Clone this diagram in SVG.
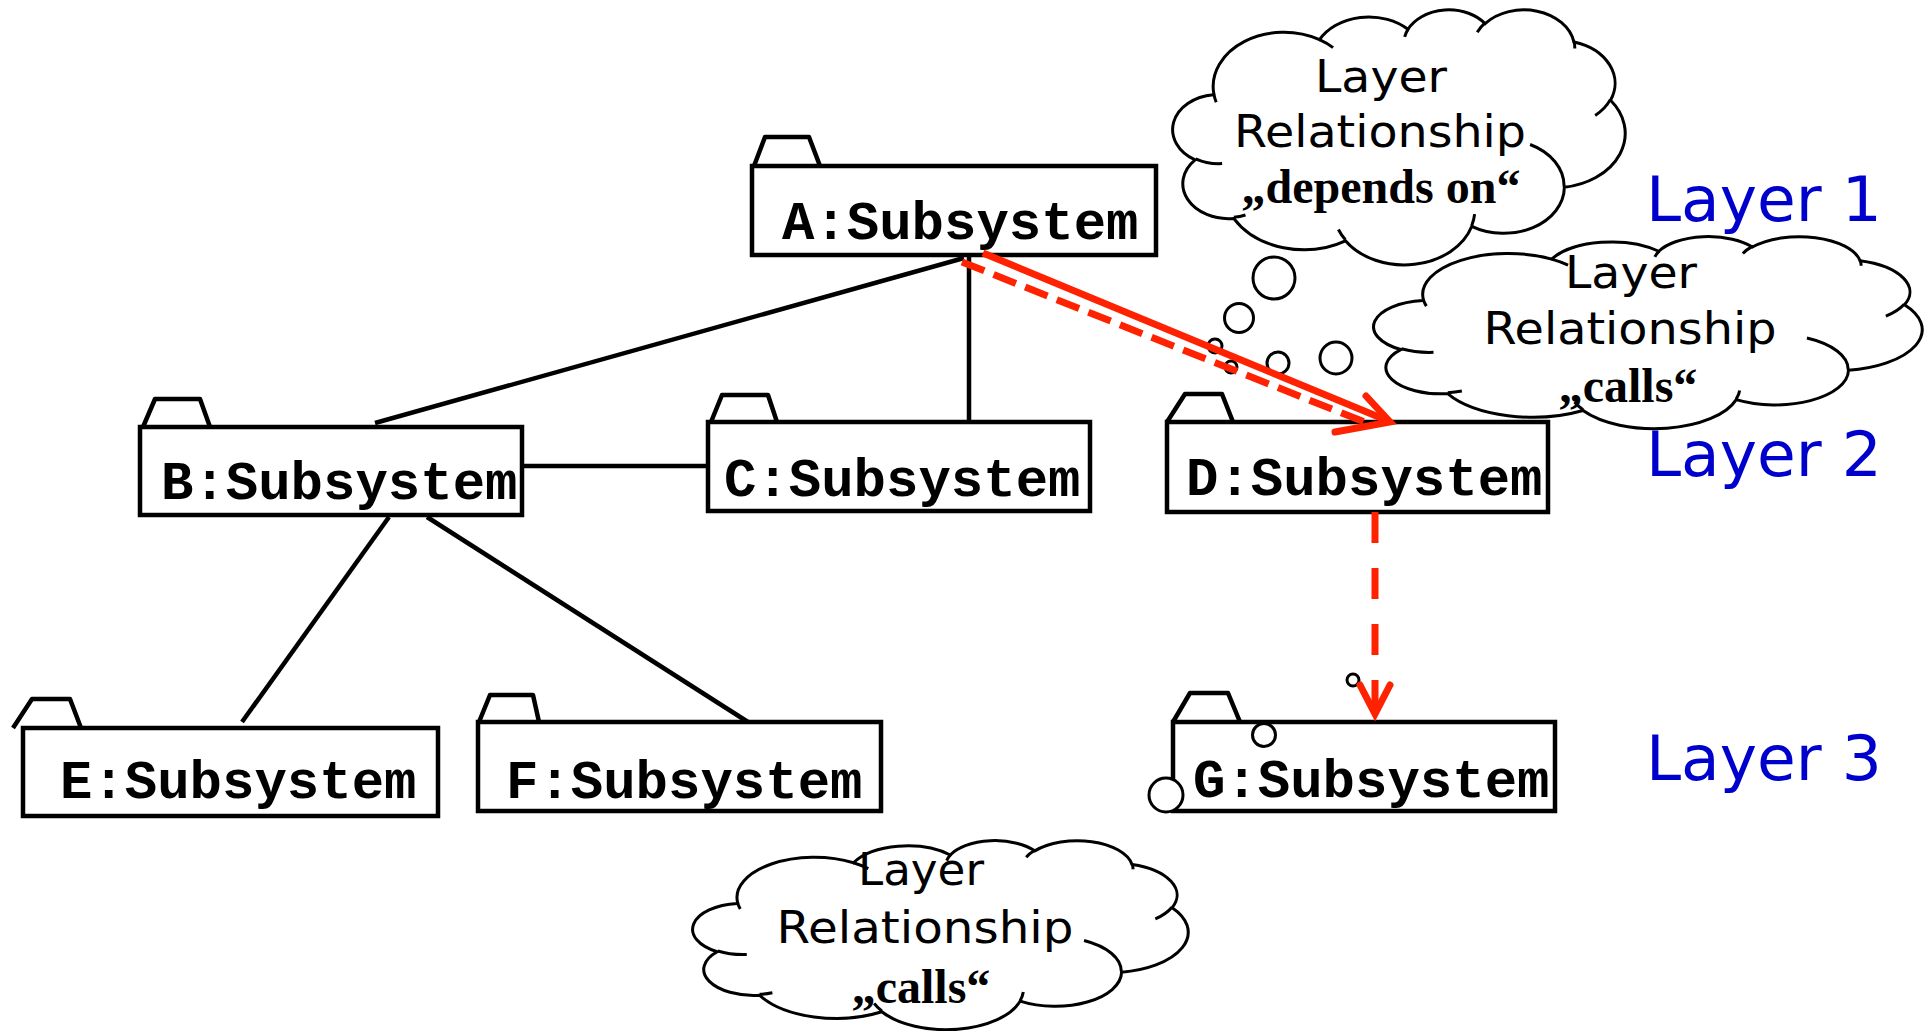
<svg xmlns="http://www.w3.org/2000/svg" width="1930" height="1031" viewBox="0 0 1930 1031">
<style>
.box{fill:#fff;stroke:#000;stroke-width:4.5}
.tab{fill:#fff;stroke:#000;stroke-width:4.5;stroke-linejoin:round}
.lbl{font-family:"Courier New","Nimbus Mono PS","FreeMono","Liberation Mono",monospace;font-weight:bold;font-size:54px;fill:#000}
.ln{stroke:#000;stroke-width:4.5;fill:none}
.red{stroke:#ff2200;fill:none}
.head{stroke:#ff2200;fill:none;stroke-width:7;stroke-linecap:round;stroke-linejoin:miter}
.cl{fill:#fff;stroke:#000;stroke-width:3}
.clin{fill:none;stroke:#000;stroke-width:3}
.ct{font-family:"DejaVu Sans",Verdana,sans-serif;font-size:44px;fill:#000;text-anchor:middle}
.cq{font-family:"Liberation Serif","Times New Roman",serif;font-weight:bold;font-size:48px;fill:#000;text-anchor:middle}
.layer{font-family:"DejaVu Sans",Verdana,sans-serif;font-size:63px;fill:#0000cc}
.bub{fill:#fff;stroke:#000;stroke-width:3}
</style>
<defs>
<g id="cloud">
<path class="cl" vector-effect="non-scaling-stroke" d="M39.00,143.70 A67.53,91.90 0 0 1 140.05,52.02 A53.33,72.67 0 0 1 224.55,34.32 A43.65,59.45 0 0 1 298.32,24.80 A48.57,65.95 0 0 1 383.17,55.76 A53.33,72.73 0 0 1 418.18,154.60 A67.75,92.20 0 0 1 374.04,302.03 A57.85,78.67 0 0 1 285.55,368.13 A67.52,92.15 0 0 1 164.80,392.65 A77.20,105.43 0 0 1 58.04,354.72 A43.60,59.18 0 0 1 21.13,255.50 A43.45,59.45 0 0 1 38.62,145.07 Z"/>
<path class="clin" vector-effect="non-scaling-stroke" d="M46.93,261.77 A43.45,59.45 0 0 1 21.61,253.80 M69.28,348.99 A43.60,59.18 0 0 1 58.19,352.81 M164.78,390.90 A67.52,92.15 0 0 1 158.10,373.49 M288.27,347.51 A67.52,92.15 0 0 1 285.60,366.60 M341.29,229.54 A57.85,78.67 0 0 1 373.80,300.90 M417.98,153.54 A53.33,72.73 0 0 1 403.50,180.30 M383.24,54.26 A48.57,65.95 0 0 1 384.01,66.90 M290.78,39.52 A48.57,65.95 0 0 1 298.20,23.38 M221.41,47.20 A43.65,59.45 0 0 1 225.01,33.31 M140.00,51.92 A67.53,91.90 0 0 1 152.99,65.39 M41.27,157.89 A67.53,91.90 0 0 1 39.00,143.71"/>
</g>
</defs>

<g id="cloud-depends">
<use href="#cloud" transform="translate(1173,9) scale(1.0463,0.5903)"/>
<text class="ct" x="1381" y="92" textLength="132" lengthAdjust="spacingAndGlyphs">Layer</text>
<text class="ct" x="1380" y="147" textLength="292" lengthAdjust="spacingAndGlyphs">Relationship</text>
<text class="cq" x="1381" y="203">„depends on“</text>
</g>

<g id="bubbles">
<circle class="bub" cx="1274" cy="278" r="21"/>
<circle class="bub" cx="1239" cy="318" r="14.5"/>
<circle class="bub" cx="1215" cy="346" r="7"/>
<circle class="bub" cx="1231" cy="367" r="6"/>
<circle class="bub" cx="1278" cy="363" r="11"/>
<circle class="bub" cx="1336" cy="358" r="16"/>
</g>

<g id="cloud-calls-top">
<use href="#cloud" transform="translate(1374,236) scale(1.2685,0.4444)"/>
<text class="ct" x="1631" y="288" textLength="132" lengthAdjust="spacingAndGlyphs">Layer</text>
<text class="ct" x="1630" y="344" textLength="293" lengthAdjust="spacingAndGlyphs">Relationship</text>
<text class="cq" x="1628" y="402">„calls“</text>
</g>

<g id="cloud-calls-bottom">
<use href="#cloud" transform="translate(693,840) scale(1.1458,0.4375)"/>
<text class="ct" x="921" y="885" textLength="126" lengthAdjust="spacingAndGlyphs">Layer</text>
<text class="ct" x="925" y="943" textLength="297" lengthAdjust="spacingAndGlyphs">Relationship</text>
<text class="cq" x="921" y="1003">„calls“</text>
</g>

<g id="layers">
<text class="layer" x="1646" y="221">Layer 1</text>
<text class="layer" x="1646" y="476">Layer 2</text>
<text class="layer" x="1646" y="780">Layer 3</text>
</g>

<g id="A">
<polyline class="tab" points="754,166 765,137 809,137 820,166"/>
<rect class="box" x="752" y="166" width="404" height="89"/>
<text class="lbl" x="782" y="239">A:Subsystem</text>
</g>
<g id="B">
<polyline class="tab" points="143,427 155,399 200,399 210,427"/>
<rect class="box" x="140" y="427" width="382" height="88"/>
<text class="lbl" x="161" y="499">B:Subsystem</text>
</g>
<g id="C">
<polyline class="tab" points="711,422 722,395 768,395 777,422"/>
<rect class="box" x="708" y="422" width="382" height="89"/>
<text class="lbl" x="724" y="496">C:Subsystem</text>
</g>
<g id="D">
<polyline class="tab" points="1167,422 1185,394 1222,394 1233,422"/>
<rect class="box" x="1167" y="422" width="381" height="90"/>
<text class="lbl" x="1186" y="495">D:Subsystem</text>
</g>
<g id="E">
<polyline class="tab" points="13,728 32,699 70,699 81,728"/>
<rect class="box" x="23" y="728" width="415" height="88"/>
<text class="lbl" x="60" y="798">E:Subsystem</text>
</g>
<g id="F">
<polyline class="tab" points="479,722 490,695 533,695 539,722"/>
<rect class="box" x="478" y="722" width="403" height="89"/>
<text class="lbl" x="506" y="798">F:Subsystem</text>
</g>
<g id="G">
<polyline class="tab" points="1173,722 1190,693 1228,693 1240,722"/>
<rect class="box" x="1173" y="722" width="382" height="89"/>
<text class="lbl" x="1193" y="797">G:Subsystem</text>
</g>

<g id="g-bubbles">
<circle class="bub" cx="1264" cy="735" r="11.5"/>
<circle class="bub" cx="1166" cy="795" r="17"/>
<circle class="bub" cx="1353" cy="680" r="6"/>
</g>

<g id="connectors">
<line class="ln" x1="964" y1="258" x2="375" y2="423"/>
<line class="ln" x1="969" y1="256" x2="969" y2="422"/>
<line class="ln" x1="522" y1="466" x2="708" y2="466"/>
<line class="ln" x1="389" y1="517" x2="242" y2="722"/>
<line class="ln" x1="427" y1="517" x2="748" y2="722"/>
<line class="red" stroke-width="7" stroke-dasharray="24 10" x1="962" y1="262" x2="1372" y2="425"/>
<line class="red" stroke-width="7" x1="983" y1="253" x2="1386" y2="420"/>
<polyline class="head" points="1366,396 1390,422 1335,432"/>
<line class="red" stroke-width="7" stroke-dasharray="31 25" x1="1375" y1="512" x2="1375" y2="712"/>
<polyline class="head" points="1360,685 1375,714 1390,685"/>
</g>
</svg>
